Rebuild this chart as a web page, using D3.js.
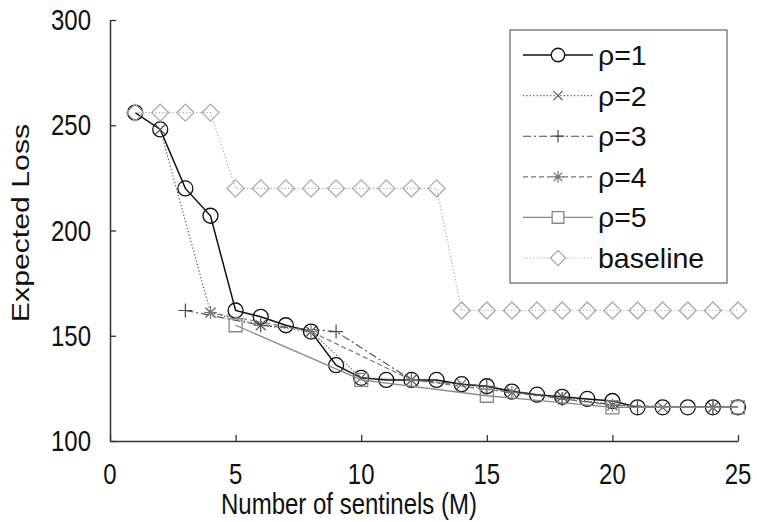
<!DOCTYPE html>
<html>
<head>
<meta charset="utf-8">
<script src="https://cdn.jsdelivr.net/npm/d3@7"></script>
<style>
  html, body { margin: 0; padding: 0; background: #fff; }
  svg { display: block; }
  text { font-family: "Liberation Sans", Arial, Helvetica, sans-serif; fill: #111; }
</style>
</head>
<body>
<svg id="chart" width="757" height="522"></svg>
<script>
// ---------------- data ----------------
const mAll = d3.range(1, 26);
const rho1 = [256, 248, 220, 207, 162, 159, 155, 152, 136, 130, 129, 129, 129, 127, 126, 123.5, 122, 121, 120, 119, 116, 116, 116, 116, 116];
const m2 = [2, 4, 6, 8, 10, 12, 14, 16, 18, 20, 22, 24];
const rho2 = [248, 161, 155, 152, 130, 129, 127, 123, 121, 117, 116, 116];
const m3 = [3, 6, 9, 12, 15, 18, 21, 24];
const rho3 = [162, 155, 152, 129, 126, 120, 116, 116];
const m4 = [4, 8, 12, 16, 20, 24];
const rho4 = [161, 152, 129, 123, 117, 116];
const m5 = [5, 10, 15, 20, 25];
const rho5 = [155, 129, 121.5, 116, 116];
const baseline = [256, 256, 256, 256, 220, 220, 220, 220, 220, 220, 220, 220, 220,
                  162, 162, 162, 162, 162, 162, 162, 162, 162, 162, 162, 162];
const xTicks = [0, 5, 10, 15, 20, 25];
const yTicks = [100, 150, 200, 250, 300];
const legendLabels = ["\u03c1=1", "\u03c1=2", "\u03c1=3", "\u03c1=4", "\u03c1=5", "baseline"];

// ---------------- layout ----------------
const svg = d3.select("#chart");
const x = d3.scaleLinear().domain([0, 25]).range([110, 738]);
const y = d3.scaleLinear().domain([100, 300]).range([441, 20]);
const FS = 24, SY = 1.2;

function stext(g, tx, ty, str, anchor, fs, sy) {
  return g.append("text")
    .attr("transform", `translate(${tx},${ty}) scale(1,${sy || SY})`)
    .attr("text-anchor", anchor)
    .attr("font-size", fs || FS)
    .text(str);
}

// marker path generators
const markers = {
  circle: s => `M${s},0A${s},${s} 0 1,1 ${-s},0A${s},${s} 0 1,1 ${s},0Z`,
  x: s => `M${-s},${-s}L${s},${s}M${-s},${s}L${s},${-s}`,
  plus: s => `M${-s},0L${s},0M0,${-s}L0,${s}`,
  star: s => { const d = s * 0.72; return `M${-s},0L${s},0M0,${-s}L0,${s}M${-d},${-d}L${d},${d}M${-d},${d}L${d},${-d}`; },
  square: s => `M${-s},${-s}H${s}V${s}H${-s}Z`,
  diamond: s => `M0,${-s}L${s},0L0,${s}L${-s},0Z`
};

const series = [
  { xs: mAll, ys: rho1, color: "#111", width: 1.5, dash: null, marker: "circle", size: 7.5, mw: 1.3 },
  { xs: m2, ys: rho2, color: "#555", width: 1.2, dash: "1.2,2.2", marker: "x", size: 5, mw: 1.2 },
  { xs: m3, ys: rho3, color: "#4a4a4a", width: 1.1, dash: "8,3,2,3", marker: "plus", size: 7, mw: 1.2 },
  { xs: m4, ys: rho4, color: "#777", width: 1.2, dash: "5,3", marker: "star", size: 6.5, mw: 1.2 },
  { xs: m5, ys: rho5, color: "#888", width: 1.3, dash: null, marker: "square", size: 6.5, mw: 1.3 },
  { xs: mAll, ys: baseline, color: "#aaa", width: 1.2, dash: "1.2,2.2", marker: "diamond", size: 8.5, mw: 1.3 }
];

// ---------------- axes ----------------
const xAxis = svg.append("g").attr("transform", "translate(0,441)")
  .call(d3.axisBottom(x).tickValues(xTicks).tickSizeInner(-6).tickSizeOuter(0).tickFormat(""));
const yAxis = svg.append("g").attr("transform", "translate(110,0)")
  .call(d3.axisLeft(y).tickValues(yTicks).tickSizeInner(-6).tickSizeOuter(0).tickFormat(""));
[xAxis, yAxis].forEach(a => {
  a.select(".domain").attr("stroke", "#333").attr("stroke-width", 1.5);
  a.selectAll(".tick line").attr("stroke", "#333").attr("stroke-width", 1.3);
});

const labels = svg.append("g");
xTicks.forEach(v => stext(labels, x(v), 484, String(v), "middle"));
yTicks.forEach(v => stext(labels, 91, y(v) + 10, String(v), "end"));
stext(labels, 349, 514, "Number of sentinels (M)", "middle");
labels.append("text")
  .attr("transform", `translate(29,223) scale(1,1.26) rotate(-90)`)
  .attr("text-anchor", "middle").attr("font-size", FS)
  .text("Expected Loss");

// ---------------- series ----------------
const line = d3.line().x(d => x(d[0])).y(d => y(d[1]));
const plot = svg.append("g");
series.forEach(s => {
  const pts = s.xs.map((m, i) => [m, s.ys[i]]);
  plot.append("path").datum(pts)
    .attr("d", line).attr("fill", "none")
    .attr("stroke", s.color).attr("stroke-width", s.width)
    .attr("stroke-dasharray", s.dash);
  plot.append("g").selectAll("path").data(pts).join("path")
    .attr("transform", d => `translate(${x(d[0])},${y(d[1])})`)
    .attr("d", markers[s.marker](s.size))
    .attr("fill", "none").attr("stroke", s.color).attr("stroke-width", s.mw);
});

// ---------------- legend ----------------
const lg = svg.append("g");
lg.append("rect").attr("x", 510).attr("y", 30).attr("width", 217).attr("height", 253)
  .attr("fill", "#fff").attr("stroke", "#444").attr("stroke-width", 1);
series.forEach((s, i) => {
  const cy = 55 + i * 40.6;
  lg.append("line").attr("x1", 523).attr("x2", 593).attr("y1", cy).attr("y2", cy)
    .attr("stroke", s.color).attr("stroke-width", s.width).attr("stroke-dasharray", s.dash);
  lg.append("path").attr("transform", `translate(558,${cy})`)
    .attr("d", markers[s.marker](s.size * 0.9))
    .attr("fill", "#fff").attr("stroke", s.color).attr("stroke-width", s.mw);
  stext(lg, 598, cy + 10, legendLabels[i], "start", 28.5, 1.0);
});
</script>
</body>
</html>
